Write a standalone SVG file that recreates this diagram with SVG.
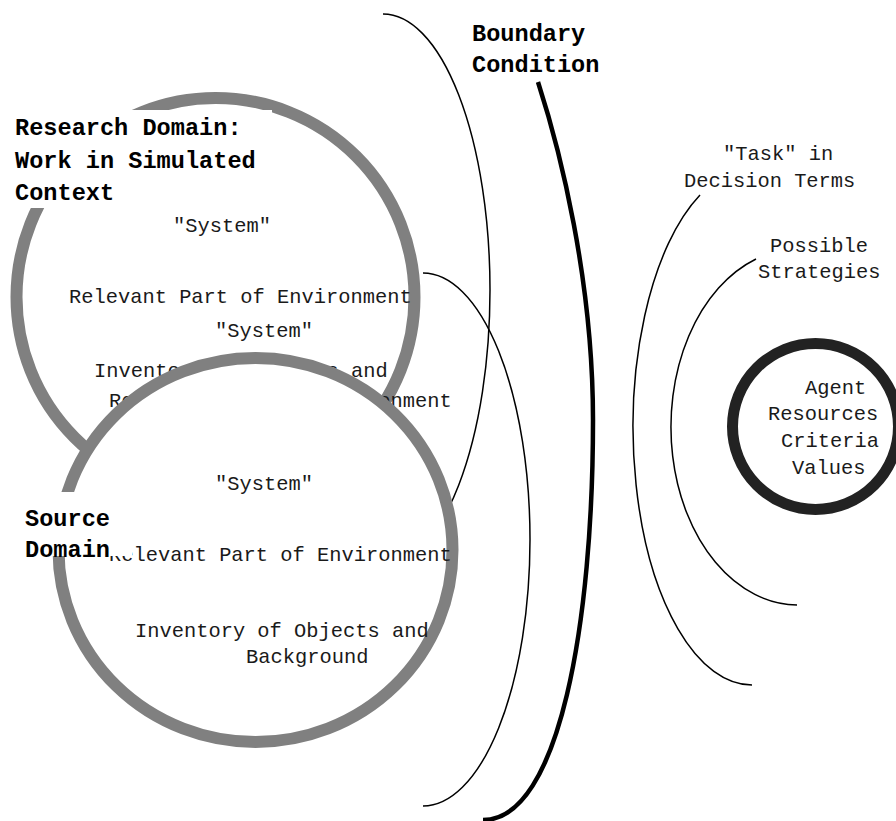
<svg xmlns="http://www.w3.org/2000/svg" width="896" height="821" viewBox="0 0 896 821">
<style>
.t{font-family:"Liberation Mono","Courier New",monospace;font-size:20.4px;fill:#1a1a1a}
.b{font-family:"Liberation Mono","Courier New",monospace;font-size:23.6px;font-weight:bold;fill:#000}
.ring{fill:#fff;stroke:#808080;stroke-width:12}
.arc{fill:none;stroke:#000;stroke-width:1.5}
.bg{fill:#fff}
</style>
<rect width="896" height="821" fill="#fff"/>
<g id="connectors">
<path class="arc" d="M383,14 A107,276 0 0 1 383,566"/>
<path class="arc" d="M423,273 A107,266.5 0 0 1 423,806"/>
<path class="arc" d="M700,195 A119,258 0 0 0 752,685"/>
<path class="arc" d="M756,259 A127,178 0 0 0 797,605"/>
<path fill="none" stroke="#000" stroke-width="4.5" d="M538,82 C560,150 593,280 593,420 C593,620 560,820 483,820"/>
</g>
<g id="boundary-condition">
<rect class="bg" x="468" y="18" width="138" height="63"/>
<text class="b" x="472" y="41">Boundary</text>
<text class="b" x="472" y="72">Condition</text>
</g>
<g id="research-domain">
<circle class="ring" cx="215.5" cy="297" r="199"/>
<text class="t" x="173" y="232">"System"</text>
<text class="t" x="69" y="303">Relevant Part of Environment</text>
<text class="t" x="215" y="337">"System"</text>
<text class="t" x="94" y="377">Inventory of Objects and</text>
<text class="t" x="109" y="407">Relevant Part of Environment</text>
<rect class="bg" x="10" y="110" width="262" height="98"/>
<text class="b" x="15" y="135">Research Domain:</text>
<text class="b" x="15" y="167.5">Work in Simulated</text>
<text class="b" x="15" y="200">Context</text>
</g>
<g id="source-domain">
<ellipse class="ring" cx="255.5" cy="550" rx="197" ry="192"/>
<text class="t" x="215" y="490">"System"</text>
<text class="t" x="109" y="561">Relevant Part of Environment</text>
<text class="t" x="135" y="637">Inventory of Objects and</text>
<text class="t" x="246" y="663">Background</text>
<rect class="bg" x="20" y="492" width="112" height="64"/>
<text class="b" x="25" y="526">Source</text>
<text class="b" x="25" y="557">Domain</text>
</g>
<g id="task">
<text class="t" x="723" y="160">"Task" in</text>
<text class="t" x="684" y="187">Decision Terms</text>
</g>
<g id="strategies">
<text class="t" x="770" y="252">Possible</text>
<text class="t" x="758" y="278">Strategies</text>
</g>
<g id="agent">
<circle cx="815.5" cy="426.5" r="83" fill="#fff" stroke="#222" stroke-width="11"/>
<text class="t" x="805" y="394">Agent</text>
<text class="t" x="768" y="420">Resources</text>
<text class="t" x="781" y="447">Criteria</text>
<text class="t" x="792" y="474">Values</text>
</g>
</svg>
